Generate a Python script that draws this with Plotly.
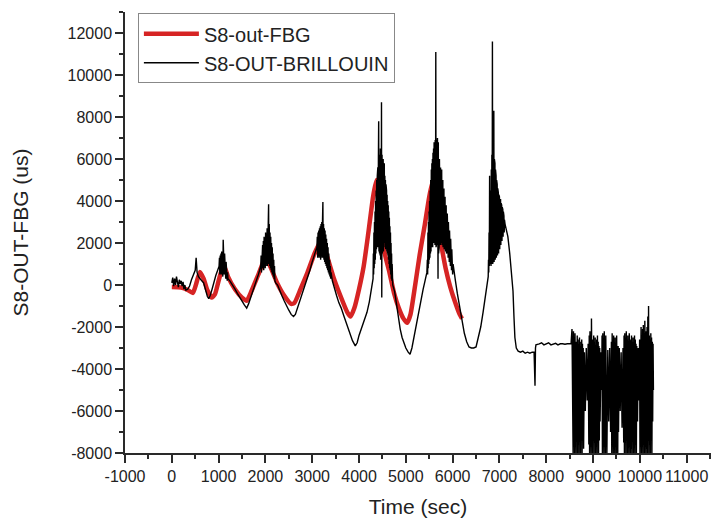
import plotly.graph_objects as go

# ---- data ----
fbg_t = [0, 200, 350, 450, 520, 600, 680, 760, 850, 920, 1000, 1080, 1120, 1200, 1350,
         1500, 1600, 1700, 1850, 2000, 2100, 2250, 2400, 2550, 2620, 2750, 2900, 3050,
         3200, 3300, 3450, 3600, 3750, 3820, 3900, 4000, 4100, 4200, 4300, 4370, 4430,
         4550, 4650, 4750, 4850, 4950, 5030, 5100, 5200, 5300, 5400, 5500, 5580, 5640,
         5750, 5850, 5950, 6050, 6150, 6200]
fbg_v = [-100, -120, -250, -380, 50, 620, 300, -250, -600, -450, 200, 800, 900, 400, -200,
         -600, -750, -300, 500, 1300, 900, 100, -500, -900, -850, -200, 600, 1500,
         2150, 1500, 400, -500, -1300, -1500, -1100, -200, 900, 2500, 4200, 5000, 3500,
         1500, 600, -400, -1100, -1600, -1800, -1400, 0, 1500, 2800, 4200, 5000, 3500,
         2000, 800, -100, -800, -1400, -1600]

# Brillouin trace as (time, value) pairs, read section by section
bri_start = [(0, 100), (20, 350), (40, -50), (60, 300), (80, 0), (100, 400), (120, 150),
             (140, -100), (160, 250), (180, 50), (200, 200), (220, -50), (240, 150),
             (260, -200), (280, 0), (300, -250), (340, -200), (380, -50), (420, 250),
             (460, 450), (500, 700), (520, 1300), (540, 600), (570, 400), (600, 300),
             (640, 200), (680, 100), (720, -300), (760, -550), (790, -650), (820, -500),
             (860, -200), (900, 200), (940, 450), (980, 700)]
bri_peak1 = [(1010, 900), (1018, 1300), (1026, 500), (1034, 1400), (1042, 600), (1050, 1500),
             (1058, 500), (1066, 1600), (1074, 700), (1082, 1500), (1090, 400), (1098, 2150),
             (1104, 600), (1112, 1700), (1120, 500), (1128, 1500), (1136, 400), (1144, 1300),
             (1152, 300), (1160, 1100), (1168, 300), (1176, 900), (1184, 200), (1192, 600),
             (1200, 300)]
bri_fall1 = [(1240, 200), (1300, 0), (1350, -200), (1400, -400), (1450, -600), (1500, -750),
             (1550, -950), (1600, -1100), (1640, -900), (1700, -500), (1750, -200),
             (1800, 100), (1850, 500)]
bri_peak2 = [(1900, 900), (1908, 1400), (1916, 600), (1924, 1700), (1932, 700), (1940, 1900),
             (1948, 800), (1956, 2100), (1964, 700), (1972, 2300), (1980, 900), (1988, 2200),
             (1996, 800), (2004, 2500), (2012, 900), (2020, 2400), (2028, 1000), (2036, 2700),
             (2044, 900), (2052, 2600), (2060, 1100), (2068, 3850), (2074, 1000), (2082, 2900),
             (2090, 900), (2098, 2500), (2106, 800), (2114, 2300), (2122, 700), (2130, 2000),
             (2138, 600), (2146, 1800), (2154, 500), (2162, 1500), (2170, 400), (2178, 1200),
             (2186, 300), (2194, 900), (2202, 200), (2220, 100)]
bri_fall2 = [(2260, 0), (2300, -250), (2350, -500), (2400, -750), (2450, -1000), (2500, -1200),
             (2550, -1400), (2600, -1500), (2640, -1400), (2700, -1000), (2750, -700),
             (2800, -350), (2850, -50), (2900, 300), (2950, 700), (3000, 1100), (3050, 1500)]
bri_peak3 = [(3100, 1800), (3108, 2300), (3116, 1300), (3124, 2500), (3132, 1400), (3140, 2600),
             (3148, 1300), (3156, 2700), (3164, 1400), (3172, 2800), (3180, 1200), (3188, 2900),
             (3196, 1400), (3204, 3000), (3212, 1300), (3220, 3100), (3228, 3950), (3234, 1300),
             (3242, 2900), (3250, 1200), (3258, 2700), (3266, 1100), (3274, 2600), (3282, 1000),
             (3290, 2400), (3298, 900), (3306, 2200), (3314, 800), (3322, 2000), (3330, 700),
             (3338, 1800), (3346, 600), (3354, 1500), (3362, 500), (3370, 1200), (3378, 400),
             (3386, 900), (3394, 300), (3402, 600), (3430, 200)]
bri_fall3 = [(3470, -150), (3520, -500), (3570, -850), (3620, -1100), (3680, -1500),
             (3740, -1900), (3800, -2300), (3860, -2650), (3920, -2900), (3960, -2750),
             (4000, -2400), (4060, -2000), (4120, -1600), (4170, -1300), (4220, -800),
             (4270, -200)]
bri_peak4 = [(4300, 300), (4306, 1500), (4312, 500), (4318, 2500), (4324, 800), (4330, 3000),
             (4336, 1000), (4342, 3500), (4348, 1200), (4354, 4000), (4360, 1500), (4366, 4500),
             (4372, 1700), (4378, 5000), (4384, 1800), (4390, 5200), (4396, 2000), (4402, 5600),
             (4408, 1800), (4414, 6000), (4420, 7800), (4426, 1600), (4432, 6200), (4438, 1500),
             (4444, 5800), (4450, 1400), (4456, 6500), (4462, 1200), (4468, 6000), (4474, 1500),
             (4480, 8700), (4486, -600), (4492, 6200), (4498, 1500), (4504, 5800), (4510, 1800),
             (4516, 6000), (4522, 1600), (4528, 5500), (4534, 1800), (4540, 5800), (4546, 2000),
             (4552, 5200), (4558, 1800), (4564, 5000), (4570, 1700), (4576, 4800), (4582, 1800),
             (4588, 4500), (4594, 1600), (4600, 4300), (4606, 1500), (4612, 4000), (4618, 1400),
             (4624, 3800), (4630, 1200), (4636, 3500), (4642, 1000), (4648, 3200), (4654, 800),
             (4660, 2800), (4666, 700), (4672, 2500), (4678, 500), (4684, 2000), (4690, 300),
             (4696, 1500), (4702, 200), (4708, 1000), (4720, 0)]
bri_fall4 = [(4760, -300), (4800, -900), (4840, -1600), (4880, -2100), (4920, -2500),
             (4960, -2800), (5000, -3000), (5050, -3200), (5090, -3300), (5130, -3000),
             (5170, -2500), (5220, -1900), (5270, -1300), (5320, -700), (5370, -200),
             (5410, 200), (5450, 600)]
bri_peak5 = [(5460, 1200), (5466, 500), (5472, 2500), (5478, 800), (5484, 3000), (5490, 1000),
             (5496, 3500), (5502, 1200), (5508, 4000), (5514, 1300), (5520, 4500), (5526, 1500),
             (5532, 5000), (5538, 1600), (5544, 5500), (5550, 1800), (5556, 5800), (5562, 2000),
             (5568, 6000), (5574, 1800), (5580, 6300), (5586, 2200), (5592, 6500), (5598, 2000),
             (5604, 6800), (5610, 2200), (5616, 6600), (5622, 1900), (5628, 6900), (5634, 2100),
             (5640, 11100), (5646, 1800), (5652, 6700), (5658, 2000), (5664, 6500), (5670, 1900),
             (5676, 7000), (5682, 1600), (5688, 300), (5694, 6800), (5700, 1500), (5706, 6200),
             (5712, 1800), (5718, 6000), (5724, 2000), (5730, 5800), (5736, 1900), (5742, 5600),
             (5748, 2100), (5754, 5400), (5760, 2000), (5766, 5500), (5772, 1900), (5778, 5200),
             (5784, 2000), (5790, 5000), (5796, 1800), (5802, 4800), (5808, 2000), (5814, 4600),
             (5820, 1700), (5826, 4400), (5832, 1800), (5838, 4200), (5844, 1600), (5850, 4000),
             (5856, 1700), (5862, 3800), (5868, 1500), (5874, 3600), (5880, 1600), (5886, 3400),
             (5892, 1400), (5898, 3200), (5904, 1300), (5910, 3000), (5916, 1200), (5922, 2800),
             (5928, 1100), (5934, 2600), (5940, 1000), (5946, 2400), (5952, 900), (5958, 2200),
             (5964, 800), (5970, 2000), (5976, 700), (5982, 1700), (5988, 600), (5994, 1500),
             (6000, 500), (6010, 1000), (6030, 600)]
bri_fall5 = [(6060, 200), (6100, -400), (6150, -1100), (6200, -1800), (6250, -2300),
             (6300, -2700), (6350, -2950), (6400, -3000), (6450, -3000), (6500, -2950),
             (6530, -2700), (6560, -2400), (6600, -2000), (6650, -1300), (6700, -500),
             (6740, 200)]
bri_peak6 = [(6760, 400), (6766, 1200), (6772, 600), (6778, 2500), (6784, 900), (6790, 5200),
             (6796, 1000), (6802, 3500), (6808, 1100), (6814, 4500), (6820, 900), (6826, 5500),
             (6832, 1000), (6838, 6200), (6844, 1100), (6850, 11600), (6856, 1000), (6862, 6500),
             (6868, 1200), (6874, 6200), (6880, 8300), (6886, 1100), (6892, 6000), (6898, 1300),
             (6904, 5800), (6910, 1200), (6916, 5500), (6922, 1400), (6928, 5200), (6934, 1300),
             (6940, 5000), (6946, 1400), (6952, 4800), (6958, 1400), (6964, 4600), (6970, 1600),
             (6976, 4400), (6982, 1500), (6988, 4300), (6994, 1700), (7000, 4200), (7006, 1700),
             (7012, 4000), (7018, 1800), (7024, 4100), (7030, 1900), (7036, 3900), (7042, 2000),
             (7048, 3800), (7054, 2100), (7060, 3700), (7066, 2200), (7072, 3600), (7078, 2300),
             (7084, 3500), (7090, 2400), (7096, 3300), (7102, 2500), (7108, 3100), (7114, 2600),
             (7120, 2900)]
bri_tail = [(7150, 2600), (7180, 2300), (7220, 1500), (7260, 600), (7290, -300),
            (7310, -1500), (7330, -2500), (7360, -3000), (7400, -3150), (7450, -3200),
            (7500, -3150), (7550, -3250), (7600, -3200), (7650, -3250), (7700, -3200),
            (7740, -3200), (7760, -4800), (7770, -3000), (7780, -2850), (7850, -2800),
            (7900, -2750), (7950, -2850), (8000, -2800), (8050, -2750), (8100, -2850),
            (8150, -2800), (8200, -2780), (8250, -2850), (8300, -2800), (8350, -2800),
            (8400, -2820), (8450, -2800), (8500, -2800), (8530, -2800)]
bri_noise = [(8550, -2100), (8558, -7800), (8566, -2400), (8574, -8000), (8582, -2200),
             (8590, -7200), (8598, -2600), (8606, -8000), (8614, -2300), (8622, -7600),
             (8630, -2500), (8638, -8000), (8646, -2700), (8654, -6800), (8662, -2400),
             (8670, -8000), (8678, -2600), (8686, -7500), (8694, -2800), (8702, -8000),
             (8710, -2500), (8718, -7000), (8726, -2700), (8734, -8000), (8742, -2900),
             (8750, -7400), (8758, -2600), (8766, -8000), (8774, -2800), (8782, -6500),
             (8790, -3000), (8798, -7800), (8815, -3200), (8835, -6000), (8855, -3000),
             (8875, -5500), (8895, -2800), (8910, -7600), (8918, -2400), (8926, -8000),
             (8934, -2200), (8942, -7000), (8950, -2500), (8958, -8000), (8966, -1600),
             (8974, -7600), (8982, -2300), (8990, -8000), (8998, -2600), (9006, -6800),
             (9014, -2400), (9022, -8000), (9030, -2700), (9038, -7500), (9046, -2500),
             (9054, -8000), (9062, -2800), (9070, -7200), (9078, -2600), (9086, -8000),
             (9094, -2400), (9102, -7000), (9110, -2700), (9118, -8000), (9126, -2900),
             (9134, -7400), (9142, -3000), (9150, -6500), (9170, -3200), (9185, -5000),
             (9192, -2400), (9200, -8000), (9208, -2300), (9216, -7500), (9224, -2500),
             (9232, -8000), (9240, -2200), (9248, -7000), (9256, -2600), (9264, -8000),
             (9272, -2400), (9280, -7600), (9288, -2800), (9296, -8000), (9315, -3100),
             (9335, -6500), (9355, -3000), (9375, -7000), (9392, -2700), (9400, -8000),
             (9408, -2300), (9416, -7500), (9424, -2600), (9432, -8000), (9440, -2400),
             (9448, -7000), (9456, -2700), (9464, -8000), (9472, -2500), (9480, -7600),
             (9488, -2800), (9496, -8000), (9504, -2400), (9512, -7200), (9520, -2600),
             (9528, -8000), (9536, -2900), (9544, -7000), (9560, -3000), (9580, -6000),
             (9600, -3200), (9620, -6800), (9640, -3000), (9655, -7500), (9662, -2400),
             (9670, -8000), (9678, -2300), (9686, -7500), (9694, -2500), (9702, -8000),
             (9710, -2200), (9718, -7000), (9726, -2600), (9734, -8000), (9742, -2400),
             (9750, -7600), (9758, -2700), (9766, -8000), (9774, -2300), (9782, -7200),
             (9790, -2500), (9798, -8000), (9806, -2600), (9814, -7800), (9822, -2400),
             (9830, -8000), (9838, -2700), (9846, -7000), (9854, -2500), (9862, -8000),
             (9870, -2800), (9878, -7400), (9886, -2400), (9894, -8000), (9902, -2600),
             (9910, -7600), (9918, -2800), (9926, -8000), (9934, -2900), (9950, -6500),
             (9965, -3000), (9980, -5500), (9995, -2600), (10002, -8000), (10010, -2200),
             (10018, -7500), (10026, -2000), (10034, -8000), (10042, -2400), (10050, -7000),
             (10058, -2100), (10066, -8000), (10074, -1900), (10082, -7600), (10090, -2300),
             (10098, -8000), (10106, -1700), (10114, -7200), (10122, -2500), (10130, -8000),
             (10138, -2200), (10146, -7800), (10154, -2000), (10162, -8000), (10170, -1500),
             (10178, -7400), (10186, -1000), (10194, -8000), (10202, -2400), (10210, -7600),
             (10218, -2600), (10226, -8000), (10234, -2300), (10242, -7000), (10250, -2500),
             (10258, -8000), (10266, -2700), (10274, -6500), (10282, -2800), (10290, -5000)]

bri_sections = [bri_start, bri_peak1, bri_fall1, bri_peak2, bri_fall2, bri_peak3, bri_fall3,
                bri_peak4, bri_fall4, bri_peak5, bri_fall5, bri_peak6, bri_tail, bri_noise]
bri_t = [p[0] for s in bri_sections for p in s]
bri_v = [p[1] for s in bri_sections for p in s]

x_ticks = [-1000, 0, 1000, 2000, 3000, 4000, 5000, 6000, 7000, 8000, 9000, 10000, 11000]
y_ticks = [-8000, -6000, -4000, -2000, 0, 2000, 4000, 6000, 8000, 10000, 12000]

FONT = "Liberation Sans, Arial, sans-serif"
AX = "#2a2a2a"

fig = go.Figure()
fig.add_trace(go.Scatter(x=fbg_t, y=fbg_v, mode="lines", name="S8-out-FBG",
                         line=dict(color="#d62424", width=4.5, shape="spline", smoothing=0.5)))
fig.add_trace(go.Scatter(x=bri_t, y=bri_v, mode="lines", name="S8-OUT-BRILLOUIN",
                         line=dict(color="#000000", width=1.4)))

axis_common = dict(
    showline=True, linecolor=AX, linewidth=1.5, ticks="outside", ticklen=8,
    tickwidth=1.5, tickcolor=AX, showgrid=False, zeroline=False, mirror=False,
    tickfont=dict(family=FONT, size=16, color="#222"),
)
fig.update_xaxes(range=[-1000, 11520], tickvals=x_ticks,
                 ticktext=[str(v) for v in x_ticks],
                 minor=dict(ticks="outside", ticklen=4, dtick=500, tick0=0,
                            tickcolor=AX, tickwidth=1.5),
                 title=dict(text="Time (sec)", font=dict(family=FONT, size=21, color="#222"),
                            standoff=15),
                 **axis_common)
fig.update_yaxes(range=[-8000, 13000], tickvals=y_ticks,
                 ticktext=[str(v) for v in y_ticks],
                 minor=dict(ticks="outside", ticklen=4, dtick=1000, tick0=0,
                            tickcolor=AX, tickwidth=1.5),
                 title=dict(text="S8-OUT-FBG (us)", font=dict(family=FONT, size=21, color="#222"),
                            standoff=33),
                 **axis_common)

fig.update_layout(
    width=711, height=522,
    margin=dict(l=125, r=0, t=12, b=69),
    paper_bgcolor="white", plot_bgcolor="white",
    showlegend=True,
    legend=dict(x=0.022, y=0.997, xanchor="left", yanchor="top",
                bgcolor="white", bordercolor="#888", borderwidth=1,
                font=dict(family=FONT, size=20, color="#222"),
                tracegroupgap=0, itemwidth=55),
)

fig.write_html("out.html")
